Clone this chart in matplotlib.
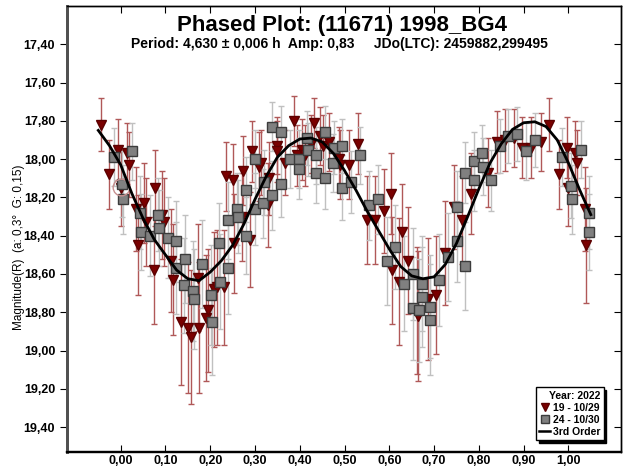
import matplotlib
matplotlib.use("Agg")
import matplotlib.pyplot as plt
from matplotlib.lines import Line2D
from matplotlib.ticker import FuncFormatter

plt.rcParams['font.family'] = ['Liberation Sans', 'DejaVu Sans']
plt.rcParams['font.weight'] = 'bold'

# session 19 - 10/29 (triangles): phase, magnitude, error
tri_phase = [-0.044, -0.026, -0.005, 0.014, 0.019, 0.000, 0.034, 0.038, 0.053, 0.057,
             0.074, 0.077, 0.093, 0.096, 0.112, 0.117, 0.135, 0.151, 0.156, 0.172,
             0.175, 0.191, 0.195, 0.208, 0.214, 0.230, 0.235, 0.250, 0.252, 0.270,
             0.274, 0.289, 0.293, 0.308, 0.313, 0.329, 0.332, 0.349, 0.350, 0.366,
             0.387, 0.393, 0.404, 0.412, 0.425, 0.431, 0.446, 0.451, 0.465, 0.488,
             0.489, 0.509, 0.530, 0.549, 0.568, 0.589, 0.604, 0.607, 0.622, 0.628,
             0.641, 0.662, 0.665, 0.686, 0.705, 0.725, 0.744, 0.763, 0.782, 0.821,
             0.840, 0.858, 0.878, 0.897, 0.917, 0.938, 0.957, 0.978, 0.996, 1.000,
             1.015, 1.019, 1.037, 1.039]
tri_mag = [17.82, 18.08, 17.95, 17.97, 18.03, 18.15, 18.26, 18.45, 18.23, 18.33,
           18.58, 18.15, 18.29, 18.33, 18.53, 18.63, 18.85, 18.88, 18.93, 18.62,
           18.88, 18.83, 18.79, 18.68, 18.67, 18.67, 18.09, 18.11, 18.44, 18.30,
           18.06, 18.42, 17.96, 18.04, 18.02, 18.24, 18.10, 17.93, 17.96, 18.02,
           17.80, 17.98, 17.95, 17.98, 17.92, 17.81, 17.88, 17.93, 17.91, 18.00,
           18.03, 18.03, 17.92, 18.32, 18.32, 18.27, 18.18, 18.58, 18.64, 18.38,
           18.53, 18.79, 18.82, 18.73, 18.71, 18.49, 18.25, 18.32, 18.18, 18.07,
           17.91, 17.90, 17.89, 17.94, 17.94, 17.91, 17.82, 18.08, 17.94, 18.15,
           17.97, 18.02, 18.26, 18.45]
tri_err = [0.14, 0.18, 0.16, 0.16, 0.17, 0.20, 0.22, 0.26, 0.21, 0.23,
           0.28, 0.20, 0.23, 0.23, 0.27, 0.29, 0.33, 0.34, 0.35, 0.28,
           0.34, 0.33, 0.32, 0.30, 0.30, 0.30, 0.18, 0.19, 0.26, 0.23,
           0.18, 0.25, 0.16, 0.18, 0.17, 0.22, 0.19, 0.15, 0.16, 0.17,
           0.13, 0.16, 0.16, 0.16, 0.15, 0.13, 0.15, 0.16, 0.15, 0.17,
           0.18, 0.18, 0.16, 0.23, 0.23, 0.22, 0.21, 0.28, 0.33, 0.25,
           0.28, 0.33, 0.34, 0.32, 0.31, 0.27, 0.22, 0.23, 0.21, 0.18,
           0.16, 0.16, 0.15, 0.16, 0.16, 0.15, 0.14, 0.18, 0.16, 0.20,
           0.17, 0.17, 0.22, 0.30]

# session 24 - 10/30 (squares)
sq_phase = [-0.016, 0.026, 0.004, 0.005, 0.044, 0.045, 0.065, 0.083, 0.086, 0.105,
            0.124, 0.124, 0.144, 0.142, 0.162, 0.163, 0.182, 0.203, 0.201, 0.221,
            0.220, 0.240, 0.240, 0.260, 0.262, 0.279, 0.280, 0.299, 0.299, 0.317,
            0.320, 0.338, 0.338, 0.357, 0.357, 0.378, 0.398, 0.398, 0.416, 0.418,
            0.437, 0.436, 0.456, 0.456, 0.476, 0.474, 0.495, 0.494, 0.515, 0.534,
            0.555, 0.574, 0.594, 0.613, 0.632, 0.652, 0.653, 0.666, 0.672, 0.672,
            0.691, 0.691, 0.711, 0.731, 0.750, 0.751, 0.768, 0.769, 0.789, 0.789,
            0.807, 0.809, 0.828, 0.847, 0.865, 0.885, 0.906, 0.926, 0.985, 1.006,
            1.008, 1.027, 1.045, 1.046]
sq_mag = [17.99, 17.96, 18.13, 18.21, 18.28, 18.38, 18.40, 18.29, 18.36, 18.41,
          18.43, 18.57, 18.52, 18.66, 18.69, 18.73, 18.55, 18.85, 18.71, 18.64,
          18.44, 18.32, 18.57, 18.26, 18.30, 18.40, 18.16, 18.26, 18.00, 18.23,
          18.12, 18.19, 17.83, 17.86, 18.13, 18.00, 18.00, 18.05, 17.89, 17.95,
          17.98, 18.07, 17.86, 18.10, 17.94, 18.02, 17.93, 18.15, 18.12, 17.98,
          18.24, 18.21, 18.53, 18.46, 18.65, 18.60, 18.78, 18.79, 18.65, 18.72,
          18.77, 18.84, 18.63, 18.51, 18.43, 18.25, 18.56, 18.07, 18.01, 18.11,
          17.97, 18.04, 18.11, 17.93, 17.88, 17.87, 17.96, 17.90, 17.99, 18.14,
          18.21, 17.95, 18.28, 18.38]
sq_err = [0.15, 0.15, 0.17, 0.18, 0.19, 0.20, 0.21, 0.19, 0.20, 0.21,
          0.21, 0.24, 0.23, 0.25, 0.26, 0.26, 0.23, 0.28, 0.26, 0.25,
          0.21, 0.20, 0.24, 0.19, 0.19, 0.20, 0.17, 0.19, 0.15, 0.18,
          0.17, 0.18, 0.13, 0.14, 0.17, 0.15, 0.15, 0.16, 0.14, 0.14,
          0.15, 0.16, 0.14, 0.16, 0.14, 0.15, 0.14, 0.17, 0.16, 0.15,
          0.18, 0.18, 0.23, 0.22, 0.25, 0.24, 0.27, 0.27, 0.25, 0.26,
          0.27, 0.29, 0.24, 0.23, 0.21, 0.19, 0.23, 0.16, 0.15, 0.16,
          0.15, 0.15, 0.16, 0.14, 0.14, 0.14, 0.15, 0.14, 0.15, 0.17,
          0.18, 0.15, 0.19, 0.20]

# 3rd order Fourier fit
fit_phase = [-0.050, -0.025, 0.000, 0.025, 0.050, 0.075, 0.100, 0.125, 0.150, 0.175,
             0.200, 0.225, 0.250, 0.275, 0.300, 0.325, 0.350, 0.375, 0.400, 0.425,
             0.450, 0.475, 0.500, 0.525, 0.550, 0.575, 0.600, 0.625, 0.650, 0.675,
             0.700, 0.725, 0.750, 0.775, 0.800, 0.825, 0.850, 0.875, 0.900, 0.925,
             0.950, 0.975, 1.000, 1.025, 1.050]
fit_mag = [17.85, 17.93, 18.03, 18.18, 18.31, 18.42, 18.50, 18.58, 18.625, 18.635,
           18.59, 18.53, 18.45, 18.34, 18.21, 18.09, 17.99, 17.93, 17.895, 17.89,
           17.91, 17.97, 18.06, 18.16, 18.27, 18.37, 18.47, 18.56, 18.61, 18.625,
           18.615, 18.55, 18.44, 18.30, 18.155, 18.02, 17.92, 17.845, 17.81, 17.805,
           17.83, 17.90, 18.02, 18.16, 18.29]

x_ticks = [0.0, 0.1, 0.2, 0.3, 0.4, 0.5, 0.6, 0.7, 0.8, 0.9, 1.0]
y_ticks = [17.4, 17.6, 17.8, 18.0, 18.2, 18.4, 18.6, 18.8, 19.0, 19.2, 19.4]

fig = plt.figure(figsize=(6.23, 4.70), dpi=100)
ax = fig.add_axes([0.1075, 0.0383, 0.889, 0.949])

ax.errorbar(tri_phase, tri_mag, yerr=tri_err, fmt='v', ms=6.5, mfc='#7a0000', mec='#5c0000',
            ecolor='#b05858', elinewidth=1, capsize=2.5, capthick=1, zorder=3)
ax.errorbar(sq_phase, sq_mag, yerr=sq_err, fmt='s', ms=6.5, mfc='#808080', mec='#3c3c3c',
            ecolor='#c0c0c0', elinewidth=1, capsize=2.5, capthick=1, zorder=3)
ax.plot([0.0], [18.145], 'o', ms=12, mfc='none', mec='#c89090', mew=1, zorder=4)
ax.plot(fit_phase, fit_mag, color='black', lw=2, zorder=5)

ax.set_xlim(-0.12, 1.117)
ax.set_ylim(19.53, 17.20)
ax.set_xticks(x_ticks)
ax.set_yticks(y_ticks)
fmt = FuncFormatter(lambda v, _: f"{v:.2f}".replace('.', ','))
ax.xaxis.set_major_formatter(fmt)
ax.yaxis.set_major_formatter(fmt)
ax.tick_params(axis='x', direction='in', top=True, length=5, labelsize=9, pad=2)
ax.tick_params(axis='y', direction='out', left=True, right=False, length=5, labelsize=9)

ax2 = ax.twinx()
ax2.set_ylim(19.53, 17.20)
ax2.set_yticks(y_ticks)
ax2.tick_params(axis='y', direction='in', length=5, labelright=False)

for a in (ax, ax2):
    a.spines['left'].set_linewidth(2)
    a.spines['left'].set_color('#505050')
    a.spines['bottom'].set_linewidth(1.6)
    a.spines['top'].set_linewidth(1)
    a.spines['right'].set_linewidth(1)

ax.set_ylabel('Magnitude(R)  (a: 0,3°  G: 0,15)', fontsize=8.5)
ax.yaxis.set_label_coords(-0.075, 0.46)

fig.text(0.549, 1 - 25 / 470, 'Phased Plot: (11671) 1998_BG4', fontsize=16,
         ha='center', va='center')
fig.text(0.545, 1 - 44 / 470,
         'Period: 4,630 ± 0,006 h  Amp: 0,83     JDo(LTC): 2459882,299495',
         fontsize=10, ha='center', va='center')

handles = [
    Line2D([], [], ls='none', marker='v', ms=6, mfc='#7a0000', mec='#5c0000'),
    Line2D([], [], ls='none', marker='s', ms=6, mfc='#808080', mec='#3c3c3c'),
    Line2D([], [], color='black', lw=1.8),
]
leg = ax.legend(handles, ['19 - 10/29', '24 - 10/30', '3rd Order'],
                title='Year: 2022', loc='lower right', bbox_to_anchor=(0.969, 0.027),
                borderaxespad=0, fontsize=7.5, title_fontsize=7.5, fancybox=False,
                shadow={'color': 'black', 'alpha': 1}, framealpha=1,
                edgecolor='black', handlelength=1.0, handletextpad=0.3,
                borderpad=0.3, labelspacing=0.2, alignment='right')
leg.get_frame().set_linewidth(1)
leg.get_title().set_fontweight('bold')

fig.savefig('out.png', dpi=100)
